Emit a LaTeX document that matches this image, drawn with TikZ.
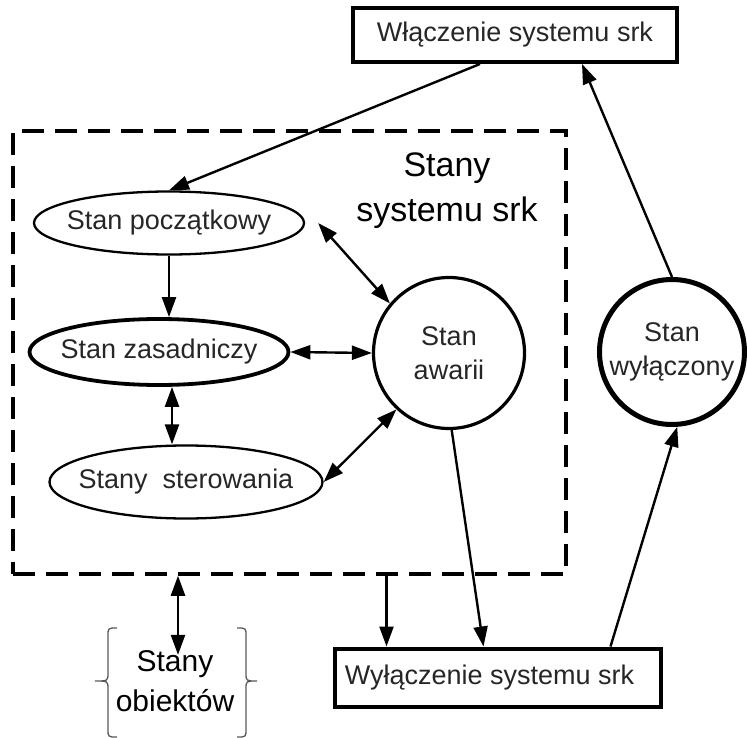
\documentclass[tikz,border=0pt]{standalone}
\usepackage{fontspec}
\setmainfont{Liberation Sans}
\usetikzlibrary{arrows.meta,shapes.geometric}
\begin{document}
\begin{tikzpicture}[x=1pt,y=-1pt,
  every node/.style={font=\fontsize{27}{34}\selectfont, text=black!85},
  boxst/.style={draw, rectangle, line width=4pt, inner sep=0pt},
  ellst/.style={draw, ellipse, inner sep=0pt, line width=#1},
  circst/.style={draw, circle, inner sep=0pt, align=center, line width=#1},
  sysbox/.style={draw, rectangle, line width=3.5pt, dash pattern=on 22pt off 11pt, inner sep=0pt},
  arr/.style={line width=2.4pt, -{Triangle[length=20pt,width=14pt]}},
  darr/.style={line width=2.4pt, {Triangle[length=20pt,width=14pt]}-{Triangle[length=20pt,width=14pt]}},
  bracest/.style={line width=1.3pt, draw=black!65}
]
\useasboundingbox (0,0) rectangle (747,738);

% boxes
\node[boxst, minimum width=324, minimum height=54] (wl) at (515,35) {Włączenie systemu srk};
\node[boxst, minimum width=326, minimum height=58,
      label={[xshift=-8pt]center:Wyłączenie systemu srk}] (wyl) at (497.5,677.5) {};

% system frame
\node[sysbox, minimum width=553, minimum height=443] (sys) at (289.5,352.5) {};
\node[font=\fontsize{34}{45}\selectfont, align=center, text=black] (lbl) at (447,191) {Stany\\systemu srk};

% ellipses
\node[ellst=2.3pt, minimum width=270, minimum height=63, label=center:Stan początkowy] (pocz) at (169,223) {};
\node[ellst=3.8pt, minimum width=259, minimum height=66, label=center:Stan zasadniczy] (zas) at (159,352) {};
\node[ellst=2.3pt, minimum width=273, minimum height=73, label=center:Stany\ \ sterowania] (ster) at (186,482) {};

% circles
\node[circst=3.2pt, minimum size=151] (aw) at (449,353) {Stan\\awarii};
\node[circst=5pt, minimum size=145] (off) at (672,352) {Stan\\wyłączony};

% object states
\node[font=\fontsize{30}{40}\selectfont, align=center, text=black] (ob) at (175,681) {Stany\\obiektów};

% connectors
\draw[arr] ([xshift=-35pt]wl.south) -- (pocz.north);
\draw[arr] (off.north) -- ([xshift=67pt]wl.south);
\draw[arr] (pocz.south) -- (pocz.south |- zas.north);
\draw[darr] (zas.east) -- (aw.west);
\coordinate (zs) at ([xshift=13pt]zas.south);
\draw[darr] (zs) -- (zs |- ster.north);
\draw[darr] ([xshift=13pt]pocz.east) -- (aw.140);
\draw[darr] (ster.east) -- (aw.227);
\draw[arr] (aw.272) -- ([xshift=-14pt]wyl.north);
\coordinate (d1) at ([xshift=-111pt]wyl.north);
\draw[arr] (d1 |- sys.south) -- (d1);
\draw[arr] ([xshift=113pt]wyl.north) -- (off.274);
\coordinate (o1) at ([xshift=3pt,yshift=-8pt]ob.north);
\draw[darr] (o1 |- sys.south) -- (o1);

% braces
\begin{scope}[shift={(ob.center)}]
\draw[bracest] (-58,-53) .. controls (-67,-53) .. (-67,-45) -- (-67,-8)
   .. controls (-67,0) .. (-80,0) .. controls (-67,0) .. (-67,8) -- (-67,48)
   .. controls (-67,56) .. (-58,56);
\draw[bracest] (62,-53) .. controls (71,-53) .. (71,-45) -- (71,-8)
   .. controls (71,0) .. (82,0) .. controls (71,0) .. (71,8) -- (71,48)
   .. controls (71,56) .. (62,56);
\end{scope}
\end{tikzpicture}
\end{document}
